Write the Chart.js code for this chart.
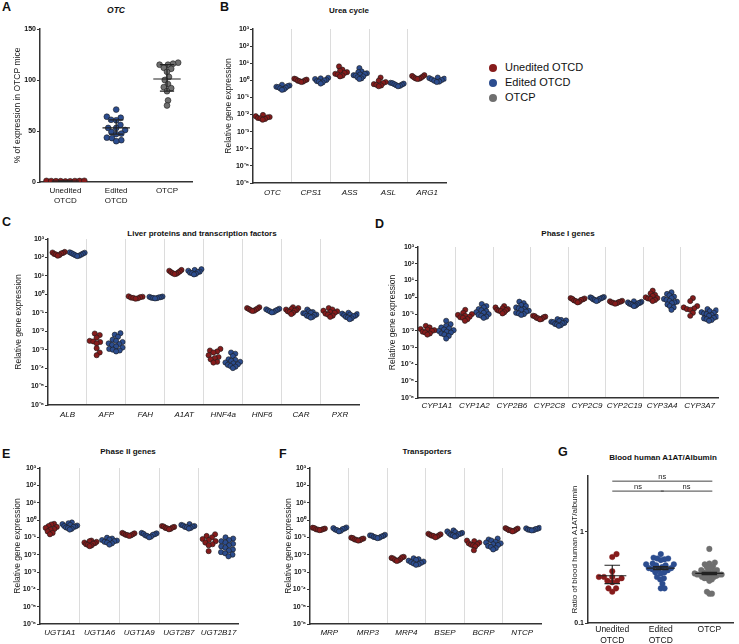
<!DOCTYPE html>
<html>
<head>
<meta charset="utf-8">
<script src="https://cdn.jsdelivr.net/npm/chart.js@4.4.1/dist/chart.umd.min.js"></script>
<style>
  body { margin: 0; background: #fff; width: 739px; height: 644px; position: relative; overflow: hidden;
         font-family: "Liberation Sans", Arial, sans-serif; color: #111; }
  canvas { position: absolute; }
  .letter { position: absolute; font-weight: bold; font-size: 12.5px; line-height: 1; }
  .title { position: absolute; font-weight: bold; font-size: 8px; line-height: 1; white-space: nowrap; transform: translate(-50%, -50%); }
  .leg { position: absolute; left: 489px; font-size: 11px; line-height: 13px; white-space: nowrap; }
  .leg span { display: inline-block; width: 8px; height: 8px; border-radius: 50%; margin-right: 8px; vertical-align: -1px; }
</style>
</head>
<body>
<div class="letter" style="left:2px;top:1px">A</div>
<div class="letter" style="left:220px;top:1px">B</div>
<div class="letter" style="left:2px;top:216px">C</div>
<div class="letter" style="left:375px;top:218px">D</div>
<div class="letter" style="left:2px;top:448px">E</div>
<div class="letter" style="left:279px;top:448px">F</div>
<div class="letter" style="left:558px;top:446px">G</div>

<div class="title" style="left:116px;top:10px;font-style:italic;font-size:8.5px">OTC</div>
<div class="title" style="left:349px;top:11px">Urea cycle</div>
<div class="title" style="left:202px;top:234px">Liver proteins and transcription factors</div>
<div class="title" style="left:568px;top:234px">Phase I genes</div>
<div class="title" style="left:128px;top:452px">Phase II genes</div>
<div class="title" style="left:427px;top:452px">Transporters</div>
<div class="title" style="left:663px;top:458px">Blood human A1AT/Albumin</div>

<div class="leg" style="top:61px"><span style="background:#861b1b"></span>Unedited OTCD</div>
<div class="leg" style="top:76px"><span style="background:#2c4d8f"></span>Edited OTCD</div>
<div class="leg" style="top:91px"><span style="background:#6f6f6f"></span>OTCP</div>

<script>
// ---- data ----
const otcLabels = [['Unedited', 'OTCD'], ['Edited', 'OTCD'], 'OTCP'];
const otcUnedited = [0.5, 0.7, 0.8, 0.9, 1.0, 1.1, 1.2, 0.9, 0.8];
const otcEdited = [71, 64, 63, 61, 60.5, 56, 53, 53, 51, 49, 47.5, 47, 43.5, 43, 41, 40];
const otcOtcp = [117, 116, 115, 115, 112, 111, 108, 103, 100, 96, 93, 92, 89, 80, 75];
const otcMean = [0.9, 53, 101];
const otcLow = [0.6, 47, 89];
const otcHigh = [1.2, 61, 115];

const ureaGenes = ['OTC', 'CPS1', 'ASS', 'ASL', 'ARG1'];
const ureaUnedited = [
  [0.0095, 0.008, 0.0072, 0.0068, 0.0063, 0.006, 0.0055, 0.005],
  [1.25, 1.15, 1.1, 1.0, 0.95, 0.9, 0.85, 0.8],
  [6.5, 4.2, 3.6, 3.0, 2.7, 2.4, 2.2, 1.9, 1.7],
  [1.45, 0.95, 0.8, 0.7, 0.6, 0.55, 0.5, 0.45],
  [2.0, 1.8, 1.65, 1.5, 1.4, 1.3, 1.25, 1.2]
];
const ureaEdited = [
  [0.55, 0.5, 0.46, 0.42, 0.4, 0.37, 0.34, 0.3, 0.28],
  [1.4, 1.3, 1.2, 1.05, 1.0, 0.9, 0.85, 0.75, 0.65],
  [5.2, 3.3, 3.0, 2.6, 2.4, 2.2, 2.0, 1.9, 1.7, 1.5, 1.3, 1.2],
  [0.72, 0.68, 0.64, 0.6, 0.56, 0.52, 0.48, 0.45],
  [1.45, 1.35, 1.25, 1.15, 1.05, 0.95, 0.85, 0.8]
];

const liverGenes = ['ALB', 'AFP', 'FAH', 'A1AT', 'HNF4a', 'HNF6', 'CAR', 'PXR'];
const liverUnedited = [
  [200, 185, 175, 165, 155, 145, 135, 125],
  [0.0075, 0.0062, 0.0045, 0.003, 0.0028, 0.0026, 0.0022, 0.0012, 0.0007, 0.0005],
  [0.78, 0.74, 0.7, 0.67, 0.64, 0.61, 0.58],
  [21, 19, 17.5, 16, 15, 14, 13, 12.5],
  [0.0011, 0.0009, 0.0008, 0.0007, 0.0005, 0.0004, 0.00035, 0.0003, 0.00022, 0.0002],
  [0.2, 0.18, 0.17, 0.16, 0.15, 0.14, 0.13, 0.125],
  [0.2, 0.18, 0.16, 0.15, 0.14, 0.13, 0.12, 0.11, 0.1, 0.085],
  [0.18, 0.15, 0.13, 0.12, 0.11, 0.1, 0.09, 0.08, 0.07, 0.06]
];
const liverEdited = [
  [190, 180, 170, 160, 150, 140, 132, 125, 118],
  [0.0078, 0.0065, 0.005, 0.0035, 0.003, 0.0026, 0.0022, 0.002, 0.0018, 0.0015, 0.0013, 0.0011, 0.001, 0.0009, 0.0008],
  [0.76, 0.73, 0.7, 0.68, 0.66, 0.64, 0.62, 0.6],
  [23, 21, 19, 17, 16, 15, 14, 13, 12],
  [0.0007, 0.0006, 0.00045, 0.0003, 0.00028, 0.00025, 0.00022, 0.0002, 0.00018, 0.00016, 0.00015, 0.00013, 0.00012, 0.0001],
  [0.165, 0.155, 0.145, 0.135, 0.13, 0.12, 0.11, 0.105],
  [0.15, 0.12, 0.11, 0.1, 0.095, 0.09, 0.08, 0.075, 0.07, 0.065, 0.06, 0.055],
  [0.1, 0.09, 0.085, 0.08, 0.075, 0.07, 0.065, 0.06, 0.055, 0.05, 0.045]
];

const phase1Genes = ['CYP1A1', 'CYP1A2', 'CYP2B6', 'CYP2C8', 'CYP2C9', 'CYP2C19', 'CYP3A4', 'CYP3A7'];
const phase1Unedited = [
  [0.02, 0.016, 0.013, 0.012, 0.011, 0.01, 0.009, 0.008, 0.007, 0.006],
  [0.18, 0.12, 0.1, 0.09, 0.08, 0.07, 0.065, 0.06, 0.05, 0.04],
  [0.3, 0.25, 0.22, 0.2, 0.18, 0.17, 0.16, 0.15, 0.13, 0.11],
  [0.08, 0.075, 0.07, 0.065, 0.06, 0.056, 0.052, 0.048],
  [0.9, 0.85, 0.8, 0.75, 0.7, 0.65, 0.6, 0.55, 0.5],
  [0.62, 0.58, 0.55, 0.52, 0.5, 0.47, 0.45, 0.42],
  [2.5, 1.7, 1.4, 1.2, 1.0, 0.9, 0.85, 0.8, 0.7, 0.6],
  [0.9, 0.6, 0.3, 0.25, 0.22, 0.2, 0.18, 0.12, 0.08]
];
const phase1Edited = [
  [0.04, 0.025, 0.02, 0.016, 0.014, 0.012, 0.011, 0.01, 0.009, 0.008, 0.007, 0.006, 0.005, 0.0035],
  [0.4, 0.3, 0.25, 0.2, 0.17, 0.15, 0.13, 0.12, 0.1, 0.09, 0.08, 0.07, 0.06],
  [0.55, 0.45, 0.35, 0.3, 0.25, 0.22, 0.2, 0.18, 0.16, 0.14, 0.12, 0.11, 0.1, 0.09],
  [0.05, 0.045, 0.042, 0.038, 0.035, 0.033, 0.03, 0.028, 0.026, 0.024, 0.022, 0.02],
  [1.05, 1.0, 0.95, 0.9, 0.85, 0.8, 0.75, 0.7, 0.65, 0.6],
  [0.58, 0.54, 0.5, 0.47, 0.45, 0.42, 0.4, 0.38, 0.35, 0.32, 0.3],
  [2.0, 1.6, 1.3, 1.1, 0.9, 0.8, 0.7, 0.6, 0.55, 0.5, 0.45, 0.38, 0.3, 0.25, 0.18],
  [0.2, 0.17, 0.15, 0.13, 0.12, 0.11, 0.1, 0.09, 0.08, 0.07, 0.06, 0.055, 0.05, 0.045, 0.04]
];

const phase2Genes = ['UGT1A1', 'UGT1A6', 'UGT1A9', 'UGT2B7', 'UGT2B17'];
const phase2Unedited = [
  [0.6, 0.55, 0.45, 0.4, 0.35, 0.3, 0.28, 0.22, 0.18, 0.15],
  [0.065, 0.06, 0.055, 0.05, 0.046, 0.043, 0.04, 0.037, 0.034, 0.031],
  [0.18, 0.17, 0.16, 0.15, 0.14, 0.135, 0.13, 0.12],
  [0.45, 0.42, 0.4, 0.37, 0.35, 0.33, 0.31, 0.29],
  [0.15, 0.12, 0.1, 0.08, 0.07, 0.06, 0.05, 0.04, 0.035, 0.016]
];
const phase2Edited = [
  [0.72, 0.65, 0.58, 0.52, 0.48, 0.45, 0.42, 0.4, 0.37, 0.34, 0.31, 0.28],
  [0.095, 0.085, 0.075, 0.07, 0.065, 0.06, 0.055, 0.05, 0.045, 0.038],
  [0.18, 0.17, 0.16, 0.15, 0.14, 0.13, 0.12, 0.11, 0.1],
  [0.58, 0.52, 0.48, 0.45, 0.42, 0.4, 0.38, 0.35, 0.32],
  [0.1, 0.085, 0.07, 0.06, 0.05, 0.042, 0.035, 0.03, 0.025, 0.02, 0.017, 0.014, 0.012, 0.01, 0.008]
];

const transGenes = ['MRP', 'MRP3', 'MRP4', 'BSEP', 'BCRP', 'NTCP'];
const transUnedited = [
  [0.36, 0.34, 0.32, 0.3, 0.29, 0.28, 0.27, 0.26],
  [0.095, 0.09, 0.085, 0.08, 0.075, 0.072, 0.068, 0.065],
  [0.0075, 0.007, 0.0065, 0.006, 0.0055, 0.005, 0.0047, 0.0043],
  [0.16, 0.15, 0.14, 0.13, 0.125, 0.12, 0.11, 0.1],
  [0.065, 0.06, 0.05, 0.045, 0.04, 0.038, 0.035, 0.03, 0.018],
  [0.34, 0.32, 0.3, 0.28, 0.26, 0.25, 0.24, 0.22]
];
const transEdited = [
  [0.37, 0.34, 0.32, 0.3, 0.28, 0.26, 0.24, 0.22],
  [0.14, 0.13, 0.125, 0.12, 0.11, 0.105, 0.1, 0.095, 0.09],
  [0.0062, 0.0055, 0.005, 0.0045, 0.004, 0.0037, 0.0034, 0.0031, 0.0028, 0.0026],
  [0.25, 0.22, 0.2, 0.18, 0.17, 0.16, 0.15, 0.14, 0.13, 0.12, 0.11],
  [0.085, 0.075, 0.065, 0.055, 0.05, 0.045, 0.04, 0.036, 0.032, 0.028, 0.024, 0.02],
  [0.35, 0.33, 0.31, 0.3, 0.28, 0.27, 0.26, 0.25]
];

const bloodLabels = [['Unedited', 'OTCD'], ['Edited', 'OTCD'], 'OTCP'];
const bloodUnedited = [0.57, 0.53, 0.37, 0.32, 0.32, 0.32, 0.31, 0.29, 0.29, 0.28, 0.24, 0.24, 0.22];
const bloodEdited = [0.57, 0.52, 0.51, 0.51, 0.5, 0.49, 0.45, 0.44, 0.44, 0.43, 0.43, 0.41, 0.4, 0.4,
  0.39, 0.39, 0.38, 0.36, 0.36, 0.35, 0.32, 0.31, 0.3, 0.27, 0.24, 0.24];
const bloodOtcp = [0.65, 0.46, 0.45, 0.44, 0.42, 0.41, 0.4, 0.38, 0.38, 0.37, 0.37, 0.36, 0.35, 0.35, 0.35,
  0.34, 0.34, 0.34, 0.34, 0.33, 0.33, 0.32, 0.32, 0.31, 0.31, 0.3, 0.29, 0.22, 0.21, 0.21];
const bloodMean = [0.33, 0.40, 0.35];
const bloodLow = [0.27, 0.385, 0.34];
const bloodHigh = [0.43, 0.415, 0.36];
const sigPairs = [[0, 2, 3.6], [0, 1, 2.8], [1, 2, 2.8]];
const sigText = ['ns', 'ns', 'ns'];

// ---- helpers ----
const COLORS = ['#861b1b', '#2c4d8f', '#6f6f6f'];
const FONT = '"Liberation Sans", Arial, sans-serif';
const SUP = { '-': '\u207b', '0': '\u2070', '1': '\u00b9', '2': '\u00b2', '3': '\u00b3', '4': '\u2074', '5': '\u2075', '6': '\u2076' };

// beeswarm: x offsets in px, squeezed so the group is at most 2*maxHalf wide
function swarm(vals, toPx, d, maxHalf) {
  const order = vals.map((v, i) => i).sort((a, b) => vals[a] - vals[b]);
  const placed = [];
  const xs = new Array(vals.length);
  order.forEach(i => {
    const y = toPx(vals[i]);
    const cands = [0];
    placed.forEach(p => {
      const dy = Math.abs(p.y - y);
      if (dy < d) {
        const dx = Math.sqrt(d * d - dy * dy);
        cands.push(p.x + dx + 0.01, p.x - dx - 0.01);
      }
    });
    cands.sort((a, b) => Math.abs(a) - Math.abs(b));
    const x = cands.find(c => placed.every(p => (p.x - c) ** 2 + (p.y - y) ** 2 >= d * d - 0.05));
    placed.push({ x, y });
    xs[i] = x;
  });
  const widest = Math.max(...xs.map(Math.abs));
  const k = widest > maxHalf ? maxHalf / widest : 1;
  return xs.map(x => x * k);
}

function dotSet(groups, shift, color, toPx, pxCat, d, r, maxHalf) {
  return {
    data: groups.flatMap((vals, i) => {
      const off = swarm(vals, toPx, d, maxHalf);
      return vals.map((v, k) => ({ x: i + shift + off[k] / pxCat, y: v }));
    }),
    backgroundColor: color,
    borderColor: '#1b1b1b',
    borderWidth: 0.6,
    pointRadius: r
  };
}

function makeCanvas(box) {
  const c = document.createElement('canvas');
  c.width = box.r - box.l + box.yw + box.pr;
  c.height = box.b - box.t + box.pt + box.xh;
  c.style.left = (box.l - box.yw) + 'px';
  c.style.top = (box.t - box.pt) + 'px';
  document.body.appendChild(c);
  return c;
}

function baseOptions(box) {
  return {
    responsive: false,
    animation: false,
    devicePixelRatio: 1,
    layout: { padding: { top: box.pt, right: box.pr, left: 0, bottom: 0 } },
    plugins: { legend: { display: false }, tooltip: { enabled: false }, title: { display: false } }
  };
}

function catAxis(n, labels, box, font, separators) {
  return {
    type: 'linear', min: -0.5, max: n - 0.5,
    afterBuildTicks: s => {
      const t = [];
      for (let v = 0; v <= n - 1; v += separators ? 0.5 : 1) t.push({ value: v });
      s.ticks = t;
    },
    afterFit: s => { s.height = box.xh; },
    ticks: {
      autoSkip: false, maxRotation: 0, minRotation: 0, padding: box.tp, color: '#111', font,
      callback: v => Number.isInteger(v) ? labels[v] : ''
    },
    grid: {
      display: separators, drawTicks: false, lineWidth: 1,
      color: c => c.tick && !Number.isInteger(c.tick.value) ? '#dcdcdc' : 'rgba(0,0,0,0)'
    },
    border: { display: true, color: '#333', width: 1.5 }
  };
}

function yTitle(text, size) {
  return { display: true, text, padding: 0, color: '#222', font: { family: FONT, size } };
}

const tickFont = { family: FONT, size: 7, weight: 'bold' };

function logAxis(box, lo, hi) {
  return {
    type: 'logarithmic', min: 10 ** lo, max: 10 ** hi,
    afterBuildTicks: s => {
      const t = [];
      for (let e = lo; e <= hi; e++) t.push({ value: 10 ** e });
      s.ticks = t;
    },
    afterFit: s => { s.width = box.yw; },
    ticks: {
      autoSkip: false, padding: 1, color: '#111', font: tickFont,
      callback: v => '10' + String(Math.round(Math.log10(v))).split('').map(ch => SUP[ch]).join('')
    },
    grid: { drawOnChartArea: false, tickLength: 3, color: '#333' },
    border: { color: '#333', width: 1.5 },
    title: yTitle('Relative gene expression', 8.5)
  };
}

// mean and error lines
function errPlugin(means, lows, highs, half, whisk) {
  return {
    id: 'errBars',
    afterDatasetsDraw(chart) {
      const { ctx, scales: { x, y } } = chart;
      ctx.save();
      ctx.strokeStyle = '#222';
      ctx.lineWidth = 1.2;
      means.forEach((m, i) => {
        const xc = x.getPixelForValue(i);
        const xw = x.getPixelForValue(i + half) - xc;
        const ww = x.getPixelForValue(i + whisk) - xc;
        const ym = y.getPixelForValue(m), yl = y.getPixelForValue(lows[i]), yh = y.getPixelForValue(highs[i]);
        ctx.beginPath();
        ctx.moveTo(xc - xw, ym); ctx.lineTo(xc + xw, ym);
        ctx.moveTo(xc - ww, yl); ctx.lineTo(xc + ww, yl);
        ctx.moveTo(xc - ww, yh); ctx.lineTo(xc + ww, yh);
        ctx.moveTo(xc, yl); ctx.lineTo(xc, yh);
        ctx.stroke();
      });
      ctx.restore();
    }
  };
}

// ---- panel A ----
(function () {
  const box = { l: 40, t: 29, r: 193, b: 182, yw: 27, pt: 8, xh: 30, pr: 4, tp: 4 };
  const pxCat = (box.r - box.l) / 3;
  const pxUnit = (box.b - box.t) / 150;
  const toPx = v => v * pxUnit;
  const sets = [otcUnedited, otcEdited, otcOtcp].map((vals, g) => {
    const off = swarm(vals, toPx, 5.2, 19);
    return {
      data: vals.map((v, k) => ({ x: g + off[k] / pxCat, y: v })),
      backgroundColor: COLORS[g], borderColor: '#1b1b1b', borderWidth: 0.6, pointRadius: 2.9
    };
  });
  const opts = baseOptions(box);
  opts.scales = {
    x: catAxis(3, otcLabels, box, { family: FONT, size: 8 }, false),
    y: {
      min: 0, max: 150,
      afterBuildTicks: s => { s.ticks = [0, 50, 100, 150].map(v => ({ value: v })); },
      afterFit: s => { s.width = box.yw; },
      ticks: { padding: 1, color: '#111', font: tickFont },
      grid: { drawOnChartArea: false, tickLength: 3, color: '#333' },
      border: { color: '#333', width: 1.5 },
      title: yTitle('% of expression in OTCP mice', 8.5)
    }
  };
  new Chart(makeCanvas(box), {
    type: 'scatter', data: { datasets: sets }, options: opts,
    plugins: [errPlugin(otcMean, otcLow, otcHigh, 0.27, 0.14)]
  });
})();

// ---- gene panels B-F ----
function genePanel(box, genes, unedited, edited) {
  const n = genes.length;
  const pxCat = (box.r - box.l) / n;
  const pxDec = (box.b - box.t) / 9;
  const toPx = v => Math.log10(v) * pxDec;
  const opts = baseOptions(box);
  opts.scales = {
    x: catAxis(n, genes, box, { family: FONT, size: 8, style: 'italic' }, true),
    y: logAxis(box, -6, 3)
  };
  new Chart(makeCanvas(box), {
    type: 'scatter',
    data: {
      datasets: [
        dotSet(unedited, -0.25, COLORS[0], toPx, pxCat, 4.8, 2.6, 7),
        dotSet(edited, 0.25, COLORS[1], toPx, pxCat, 4.8, 2.6, 7.5)
      ]
    },
    options: opts
  });
}

genePanel({ l: 253, t: 29, r: 447, b: 183, yw: 29, pt: 8, xh: 18, pr: 4, tp: 5 }, ureaGenes, ureaUnedited, ureaEdited);
genePanel({ l: 48, t: 239, r: 361, b: 405, yw: 34, pt: 8, xh: 18, pr: 3, tp: 5 }, liverGenes, liverUnedited, liverEdited);
genePanel({ l: 418, t: 247, r: 720, b: 398, yw: 30, pt: 8, xh: 16, pr: 3, tp: 3 }, phase1Genes, phase1Unedited, phase1Edited);
genePanel({ l: 40, t: 468, r: 240, b: 624, yw: 27, pt: 8, xh: 16, pr: 3, tp: 4 }, phase2Genes, phase2Unedited, phase2Edited);
genePanel({ l: 310, t: 468, r: 543, b: 624, yw: 26, pt: 8, xh: 16, pr: 3, tp: 4 }, transGenes, transUnedited, transEdited);

// ---- panel G ----
(function () {
  const box = { l: 588, t: 476, r: 737, b: 623, yw: 18, pt: 8, xh: 26, pr: 1, tp: 2 };
  const pxCat = (box.r - box.l) / 3;
  const pxDec = (box.b - box.t) / (Math.log10(4.1) + 1);
  const toPx = v => Math.log10(v) * pxDec;
  const sets = [bloodUnedited, bloodEdited, bloodOtcp].map((vals, g) => {
    const off = swarm(vals, toPx, 5.2, 15);
    return {
      data: vals.map((v, k) => ({ x: g + off[k] / pxCat, y: v })),
      backgroundColor: COLORS[g], borderColor: COLORS[g], borderWidth: 0.4, pointRadius: 2.8
    };
  });
  const sigPlugin = {
    id: 'sig',
    afterDatasetsDraw(chart) {
      const { ctx, scales: { x, y } } = chart;
      ctx.save();
      ctx.strokeStyle = '#444';
      ctx.lineWidth = 1;
      ctx.fillStyle = '#222';
      ctx.font = '7.5px ' + FONT;
      ctx.textAlign = 'center';
      ctx.textBaseline = 'bottom';
      sigPairs.forEach(([a, b, v], i) => {
        const x1 = x.getPixelForValue(a), x2 = x.getPixelForValue(b) + 3, yy = y.getPixelForValue(v);
        ctx.beginPath();
        ctx.moveTo(x1, yy); ctx.lineTo(x2, yy);
        ctx.stroke();
        ctx.fillText(sigText[i], (x1 + x2) / 2, yy - 0.5);
      });
      ctx.restore();
    }
  };
  const opts = baseOptions(box);
  opts.scales = {
    x: catAxis(3, bloodLabels, box, { family: FONT, size: 8.5 }, false),
    y: {
      type: 'logarithmic', min: 0.1, max: 4.1,
      afterBuildTicks: s => { s.ticks = [0.1, 1].map(v => ({ value: v })); },
      afterFit: s => { s.width = box.yw; },
      ticks: { padding: 1, color: '#111', font: tickFont, callback: v => String(v) },
      grid: { drawOnChartArea: false, tickLength: 3, color: '#333' },
      border: { color: '#333', width: 1.5 },
      title: yTitle('Ratio of blood human A1AT/albumin', 8)
    }
  };
  new Chart(makeCanvas(box), {
    type: 'scatter', data: { datasets: sets }, options: opts,
    plugins: [errPlugin(bloodMean, bloodLow, bloodHigh, 0.29, 0.16), sigPlugin]
  });
})();
</script>
</body>
</html>
